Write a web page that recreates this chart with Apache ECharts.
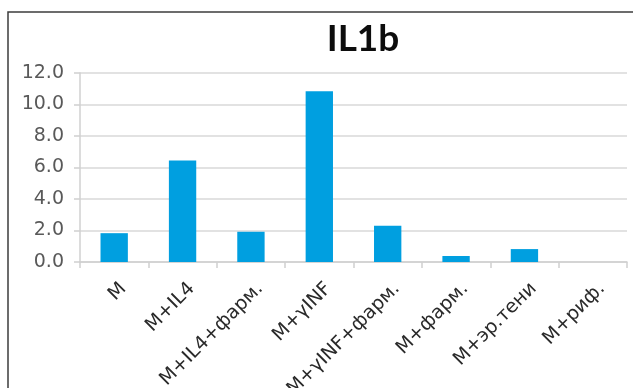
<!DOCTYPE html>
<html>
<head>
<meta charset="utf-8">
<script src="https://cdn.jsdelivr.net/npm/echarts@6/dist/echarts.min.js"></script>
<style>
  html, body { margin: 0; padding: 0; background: #fff; }
  #chart { width: 633px; height: 388px; }
</style>
</head>
<body>
<div id="chart"></div>
<script>
// IL1b expression by treatment group
const categories = ['M', 'M+IL4', 'M+IL4+фарм.', 'M+γINF', 'M+γINF+фарм.', 'M+фарм.', 'M+эр.тени', 'M+риф.'];
const values = [1.83, 6.45, 1.92, 10.84, 2.3, 0.38, 0.82, 0];
const yTicks = { min: 0, max: 12, interval: 2 };
const chartTitle = 'IL1b';

const chart = echarts.init(document.getElementById('chart'), null, { renderer: 'canvas' });

chart.setOption({
  backgroundColor: '#ffffff',
  animation: false,
  title: {
    text: chartTitle,
    left: 358,
    textAlign: 'center',
    top: 16,
    textStyle: { fontFamily: 'Lato', fontWeight: 'bold', fontSize: 37, color: '#0d0d0d' }
  },
  graphic: [{
    type: 'rect',
    shape: { x: 8, y: 12, width: 700, height: 500 },
    style: { fill: 'none', stroke: '#3c3c3c', lineWidth: 1.5 },
    silent: true
  }],
  grid: { left: 80, right: 6, top: 73, bottom: 126, containLabel: false, outerBoundsMode: 'none' },
  xAxis: {
    type: 'category',
    data: categories,
    boundaryGap: true,
    axisLine: { show: true, lineStyle: { color: '#d0d0d0', width: 1.5 } },
    axisTick: { show: true, alignWithLabel: false, length: 6, lineStyle: { color: '#d0d0d0', width: 1.5 } },
    axisLabel: {
      rotate: 45,
      interval: 0,
      margin: 33,
      padding: [0, -13, 0, 0],
      fontFamily: 'DejaVu Sans',
      fontSize: 19,
      color: '#2a2a2a'
    },
    splitLine: { show: false }
  },
  yAxis: {
    type: 'value',
    min: yTicks.min,
    max: yTicks.max,
    interval: yTicks.interval,
    axisLine: { show: true, lineStyle: { color: '#d0d0d0', width: 1.5 } },
    axisTick: { show: true, length: 6, lineStyle: { color: '#d0d0d0', width: 1.5 } },
    axisLabel: {
      margin: 16,
      fontFamily: 'DejaVu Sans',
      fontSize: 19,
      color: '#595959',
      formatter: v => v.toFixed(1)
    },
    splitLine: { show: true, lineStyle: { color: '#d9d9d9', width: 1.5 } }
  },
  series: [{
    type: 'bar',
    data: values,
    barWidth: '40%',
    itemStyle: { color: '#009fe0' }
  }]
});
</script>
</body>
</html>
